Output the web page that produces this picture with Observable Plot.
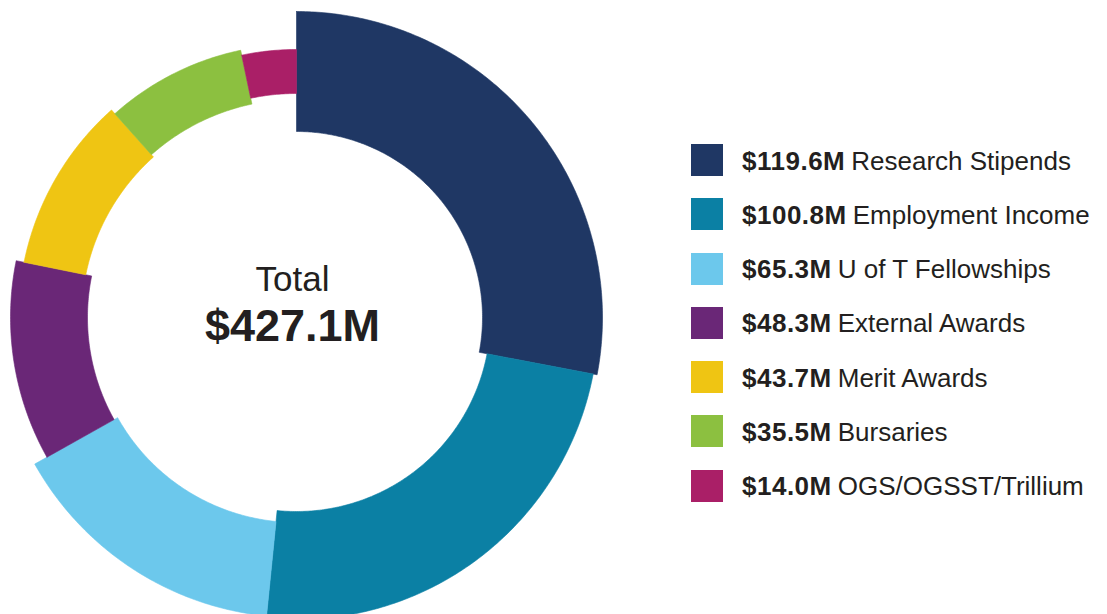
<!DOCTYPE html>
<html><head><meta charset="utf-8">
<script src="https://cdn.jsdelivr.net/npm/d3@7"></script>
<script src="https://cdn.jsdelivr.net/npm/@observablehq/plot@0.6"></script>
<style>
body{margin:0;background:#fff;font-family:"Liberation Sans",Arial,sans-serif;}
#wrap{position:relative;width:1107px;height:614px;overflow:hidden}
#chart{position:absolute;left:0;top:0}
#legend{position:absolute;left:691px;top:144px;}
.row{display:flex;align-items:center;height:32px;margin-bottom:22.3px;font-size:26px;color:#231f20;white-space:nowrap}
.row b{font-weight:bold;margin-right:6px;letter-spacing:0.5px}
.row span.lab{position:relative;top:1px}
.row b{position:relative;top:1px}
.sw{width:32px;height:32px;margin-right:19px;flex:none}
</style></head><body><div id="wrap"><div id="chart"></div><div id="legend"></div></div>
<script>
// ---- data ----
const categories = ["Research Stipends", "Employment Income", "U of T Fellowships", "External Awards", "Merit Awards", "Bursaries", "OGS/OGSST/Trillium"];
const values = [119.6, 100.8, 65.3, 48.3, 43.7, 35.5, 14.0];
const valueLabels = ["$119.6M", "$100.8M", "$65.3M", "$48.3M", "$43.7M", "$35.5M", "$14.0M"];
const centerLabel = "Total";
const totalLabel = "$427.1M";

// ---- styles ----
const colors = ["#1f3764", "#0b80a4", "#6cc8ec", "#6a2777", "#efc513", "#8cc040", "#aa1f67"];
const outerRadii = [306, 302, 300, 286, 278, 273, 268];
const innerRadii = [186, 194, 205, 209, 215, 218, 224];

const arcs = d3.pie().sort(null).value(d => d)(values);

function ring(a0, a1, r0, r1) {
  const n = Math.max(8, Math.ceil((a1 - a0) / 0.01));
  const pts = [];
  for (let k = 0; k <= n; k++) {
    const a = a0 + (a1 - a0) * k / n;
    pts.push({x: r1 * Math.sin(a), y: -r1 * Math.cos(a)});
  }
  for (let k = n; k >= 0; k--) {
    const a = a0 + (a1 - a0) * k / n;
    pts.push({x: r0 * Math.sin(a), y: -r0 * Math.cos(a)});
  }
  pts.push(pts[0]);
  return pts;
}

const sliceMarks = arcs.map((a, i) =>
  Plot.line(ring(a.startAngle, a.endAngle, innerRadii[i], outerRadii[i]), {
    x: "x", y: "y", fill: colors[i], stroke: colors[i], strokeWidth: 0.6
  })
);

const chart = Plot.plot({
  width: 1107,
  height: 614,
  margin: 0,
  style: {background: "transparent", fontFamily: "'Liberation Sans', Arial, sans-serif"},
  x: {domain: [-296, 811], range: [0, 1107], axis: null},
  y: {domain: [-317, 297], range: [0, 614], axis: null},
  marks: [
    ...sliceMarks,
    Plot.text([centerLabel], {x: 0, y: -38, dx: -4, text: d => d, fontSize: 35, fill: "#231f20", textAnchor: "middle"}),
    Plot.text([totalLabel], {x: 0, y: 9, dx: -4, text: d => d, fontSize: 45, fontWeight: "bold", fill: "#231f20", textAnchor: "middle", letterSpacing: 0.5})
  ]
});
document.getElementById("chart").appendChild(chart);

const legend = document.getElementById("legend");
categories.forEach((c, i) => {
  const row = document.createElement("div");
  row.className = "row";
  const sw = document.createElement("span");
  sw.className = "sw";
  sw.style.background = colors[i];
  const b = document.createElement("b");
  b.textContent = valueLabels[i];
  const t = document.createElement("span");
  t.className = "lab";
  t.textContent = c;
  row.append(sw, b, t);
  legend.appendChild(row);
});
</script>
</body></html>
